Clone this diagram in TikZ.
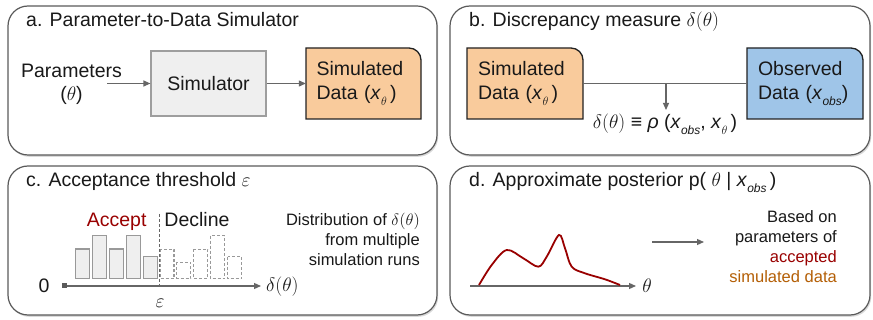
\RequirePackage{fix-cm}
\documentclass[tikz,border=0pt]{standalone}
\usepackage{fontspec}
\setmainfont{Liberation Sans}
\usetikzlibrary{arrows.meta,shadows}
\definecolor{panelc}{HTML}{5A5A5A}
\definecolor{arrc}{HTML}{666666}
\definecolor{simc}{HTML}{9E9E9E}
\definecolor{simfill}{HTML}{EFEFEF}
\definecolor{boxc}{HTML}{222222}
\definecolor{orfill}{HTML}{F9CB9C}
\definecolor{blfill}{HTML}{9FC5E8}
\definecolor{accred}{HTML}{990000}
\definecolor{simbrown}{HTML}{B45F06}
\definecolor{barc}{HTML}{999999}
\newcommand\lowsub[1]{\raisebox{-6pt}{\fontsize{12}{12}\selectfont\itshape #1}}
\newcommand\databg[5]{\draw[fill=#5, draw=boxc, line width=1.3pt] (#1,#4) -- (#1,#2) -- ({#3-12},#2) .. controls ({#3-5.4},#2) and (#3,{#2+5.4}) .. (#3,{#2+12}) -- (#3,#4) -- cycle;}
\begin{document}
\begin{tikzpicture}[x=1pt,y=-1pt,
  panel/.style={draw=panelc, line width=1.2pt, fill=white, rounded corners=20pt,
    drop shadow={opacity=0.3, shadow xshift=1.2pt, shadow yshift=-1.8pt}, inner sep=0pt},
  title/.style={anchor=base west, inner sep=0pt, text=black!90, font=\fontsize{19.5}{23}\selectfont},
  lbl/.style={inner sep=0pt, text=black!90, font=\fontsize{19.5}{23}\selectfont},
  side/.style={inner sep=0pt, align=right, text=black!90, font=\fontsize{16.5}{20}\selectfont},
  arr/.style={draw=arrc, line width=1.2pt, -{Triangle[length=7pt,width=6pt]}},
  databox/.style={inner sep=0pt, minimum width=115pt, minimum height=71pt, text width=94pt,
    align=left, text=black!90, font=\fontsize{19.5}{24}\selectfont},
  gbar/.style={draw=barc, fill=simfill, line width=1.1pt},
  dbar/.style={draw=barc, line width=1.1pt, dash pattern=on 3pt off 2pt},
  curve/.style={draw=accred, line width=1.8pt}]
\useasboundingbox (0,0) rectangle (873,320);
% panels
\node[panel, minimum width=429pt, minimum height=149pt] (pa) at (222.5,80.5) {};
\node[panel, minimum width=420pt, minimum height=149pt] (pb) at (660,80.5) {};
\node[panel, minimum width=429pt, minimum height=149pt] (pc) at (222.5,240.5) {};
\node[panel, minimum width=420pt, minimum height=149pt] (pd) at (660,240.5) {};
% titles
\node[title] (ta) at (26,27) {a. Parameter-to-Data Simulator};
\node[title] (tb) at (469,27) {b. Discrepancy measure $\delta(\theta)$};
\node[title] (tc) at (26,187) {c. Acceptance threshold $\varepsilon$};
\node[title] (td) at (469,187) {d. Approximate posterior p( $\theta$ | \textit{x}\lowsub{obs}\,)};
% panel a
\node[lbl, align=center] (par) at (71.5,84) {Parameters\\($\theta$)};
\coordinate (pin) at (107,83.5);
\node[lbl, draw=simc, fill=simfill, line width=1.2pt, minimum width=115pt, minimum height=65pt] (simr) at (208.5,83.5) {Simulator};
\databg{306}{48}{421}{119}{orfill}
\node[databox] (simA) at (363.5,83.5) {Simulated\\Data (\textit{x}\lowsub{$\theta$}\,)};
\draw[arr] (pin) -- (simr.west);
\draw[arr] (simr.east) -- (simA.west);
% panel b
\databg{467}{48}{583}{119}{orfill}
\node[databox] (simB) at (525,83.5) {Simulated\\Data (\textit{x}\lowsub{$\theta$}\,)};
\databg{747}{48}{863}{119}{blfill}
\node[databox] (obs) at (805,83.5) {Observed\\Data (\textit{x}\lowsub{obs})};
\draw[draw=arrc, line width=1.2pt] (simB.east) -- (obs.west);
\coordinate (mid) at (666,83.5);
\coordinate (fp) at (666,110);
\draw[arr] (mid) -- (fp);
\node[lbl, anchor=base] (form) at (665,128.5) {$\delta(\theta)$ ≡ \textit{ρ} (\textit{x}\lowsub{obs}, \textit{x}\lowsub{$\theta$}\,)};
% panel c
\foreach \i/\t in {0/249,1/235.7,2/249,3/235.7,4/256.7}
  \draw[gbar] ({75.5+16.9*\i},\t) rectangle ({89.5+16.9*\i},278.7);
\foreach \i/\t in {5/249.3,6/262.3,7/249.3,8/235.7,9/256.7}
  \draw[dbar] ({75.5+16.9*\i},\t) rectangle ({89.5+16.9*\i},278.7);
\draw[draw=arrc, line width=1pt, dash pattern=on 3pt off 2pt] (159.5,214) -- (159.5,286);
\coordinate (ax0) at (64,286);
\coordinate (ax1) at (261,286);
\draw[arr] (ax0) -- (ax1);
\fill[panelc] (61.5,283.5) rectangle (66.5,288.5);
\node[lbl] (zero) at (44,286) {0};
\node[lbl, anchor=west] (dlab) at (266,286.5) {$\delta(\theta)$};
\node[lbl] (eps) at (160,303) {$\varepsilon$};
\node[lbl, anchor=base, text=accred] (acc) at (116.7,227) {Accept};
\node[lbl, anchor=base] (dec) at (197,227) {Decline};
\node[side, anchor=east] (distr) at (420,239) {Distribution of $\delta(\theta)$\\from multiple\\simulation runs};
% panel d
\coordinate (d0) at (470,286);
\coordinate (d1) at (636,286);
\draw[arr] (d0) -- (d1);
\node[lbl] (th) at (647,286) {$\theta$};
\draw[curve] plot[smooth, tension=0.55] coordinates {(479,285) (491.7,265) (506.7,250) (523.3,258.3) (538.3,266.7) (546.7,256.7) (559,235) (565,248.3) (571.7,266.7) (585,273.3) (605,279.3) (620,285)};
\coordinate (e0) at (652,242);
\coordinate (e1) at (704,242);
\draw[arr] (e0) -- (e1);
\node[side, anchor=east] (based) at (837,247) {Based on\\parameters of\\\textcolor{accred}{accepted}\\\textcolor{simbrown}{simulated data}};
\end{tikzpicture}
\end{document}
